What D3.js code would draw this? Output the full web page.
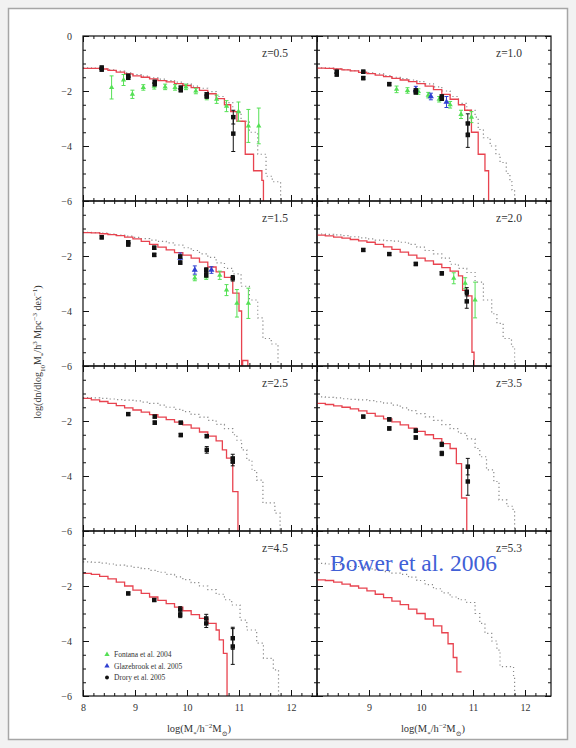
<!DOCTYPE html>
<html><head><meta charset="utf-8">
<script src="https://cdn.jsdelivr.net/npm/d3@7"></script>
<style>body{margin:0;background:#f2f2f2}</style>
</head><body><svg id="c" width="576" height="748"></svg>
<script>
// ---------------- data ----------------
const redshifts = ["z=0.5","z=1.0","z=1.5","z=2.0","z=2.5","z=3.5","z=4.5","z=5.3"];
const xDomain = [8, 12.5];
const yDomain = [-6, 0];
const xMajorTicks = [8, 9, 10, 11, 12];
const yMajorTicks = [0, -2, -4, -6];

// model (solid red) and comparison model (grey dotted), step histograms [logM, logPhi]
const red_z05 = [[8.0,-1.18],[8.16,-1.18],[8.32,-1.2],[8.48,-1.25],[8.64,-1.31],[8.8,-1.38],[8.96,-1.45],[9.12,-1.5],[9.28,-1.56],[9.44,-1.62],[9.6,-1.67],[9.76,-1.73],[9.92,-1.8],[10.08,-1.88],[10.24,-1.98],[10.4,-2.1],[10.56,-2.28],[10.72,-2.5],[10.84,-2.75],[10.96,-3.1],[11.12,-4.3],[11.28,-4.9],[11.44,-5.25],[11.47,-7],[11.6,-7]];
const gray_z05 = [[8.0,-1.16],[8.16,-1.17],[8.32,-1.19],[8.48,-1.23],[8.64,-1.28],[8.8,-1.34],[8.96,-1.4],[9.12,-1.46],[9.28,-1.52],[9.44,-1.57],[9.6,-1.62],[9.76,-1.68],[9.92,-1.74],[10.08,-1.82],[10.24,-1.9],[10.4,-2.02],[10.56,-2.2],[10.72,-2.42],[10.88,-2.75],[11.04,-3.1],[11.2,-3.5],[11.36,-4.3],[11.52,-5.1],[11.64,-5.3],[11.8,-7],[11.9,-7]];
const red_z10 = [[8.0,-1.17],[8.16,-1.18],[8.32,-1.2],[8.48,-1.23],[8.64,-1.27],[8.8,-1.32],[8.96,-1.37],[9.12,-1.42],[9.28,-1.48],[9.44,-1.54],[9.6,-1.6],[9.76,-1.66],[9.92,-1.73],[10.08,-1.82],[10.24,-1.95],[10.4,-2.12],[10.56,-2.3],[10.72,-2.5],[10.84,-2.7],[10.97,-3.5],[11.1,-4.3],[11.23,-4.9],[11.3,-7],[11.4,-7]];
const gray_z10 = [[8.0,-1.16],[8.16,-1.17],[8.32,-1.19],[8.48,-1.22],[8.64,-1.26],[8.8,-1.3],[8.96,-1.34],[9.12,-1.38],[9.28,-1.44],[9.44,-1.5],[9.6,-1.55],[9.76,-1.6],[9.92,-1.66],[10.08,-1.74],[10.24,-1.85],[10.4,-2.0],[10.56,-2.2],[10.72,-2.45],[10.88,-2.7],[11.04,-2.95],[11.1,-3.4],[11.2,-3.7],[11.33,-4.0],[11.44,-4.3],[11.52,-4.6],[11.64,-5.0],[11.71,-5.3],[11.75,-5.6],[11.8,-7],[11.9,-7]];
const red_z15 = [[8.0,-1.15],[8.16,-1.16],[8.32,-1.19],[8.48,-1.22],[8.64,-1.26],[8.8,-1.31],[8.96,-1.38],[9.12,-1.47],[9.28,-1.58],[9.44,-1.68],[9.6,-1.78],[9.76,-1.88],[9.92,-1.97],[10.08,-2.08],[10.24,-2.22],[10.4,-2.4],[10.56,-2.58],[10.72,-2.78],[10.88,-3.35],[11.0,-4.0],[11.05,-7],[11.07,-5.8],[11.17,-7],[11.3,-7]];
const gray_z15 = [[8.0,-1.14],[8.16,-1.15],[8.32,-1.17],[8.48,-1.2],[8.64,-1.24],[8.8,-1.28],[8.96,-1.32],[9.12,-1.37],[9.28,-1.42],[9.44,-1.47],[9.6,-1.52],[9.76,-1.6],[9.92,-1.7],[10.08,-1.8],[10.24,-1.92],[10.4,-2.05],[10.56,-2.25],[10.72,-2.45],[10.88,-2.65],[11.04,-3.1],[11.2,-3.6],[11.36,-4.25],[11.46,-5.0],[11.62,-5.2],[11.75,-7],[11.85,-7]];
const red_z20 = [[8.0,-1.24],[8.16,-1.27],[8.32,-1.31],[8.48,-1.35],[8.64,-1.4],[8.8,-1.45],[8.96,-1.5],[9.12,-1.58],[9.28,-1.67],[9.44,-1.76],[9.6,-1.86],[9.76,-1.97],[9.92,-2.08],[10.08,-2.18],[10.24,-2.3],[10.4,-2.42],[10.56,-2.55],[10.72,-2.72],[10.8,-3.25],[10.9,-3.45],[10.98,-5.5],[11.02,-7],[11.1,-7]];
const gray_z20 = [[8.0,-1.2],[8.16,-1.21],[8.32,-1.23],[8.48,-1.26],[8.64,-1.3],[8.8,-1.34],[8.96,-1.38],[9.12,-1.42],[9.28,-1.44],[9.44,-1.46],[9.6,-1.5],[9.76,-1.58],[9.92,-1.68],[10.08,-1.8],[10.24,-1.92],[10.4,-2.08],[10.56,-2.3],[10.72,-2.45],[10.88,-2.6],[11.04,-2.95],[11.2,-3.6],[11.36,-4.1],[11.46,-4.45],[11.58,-5.0],[11.74,-5.3],[11.8,-7],[11.9,-7]];
const red_z25 = [[8.0,-1.18],[8.16,-1.23],[8.32,-1.29],[8.48,-1.36],[8.64,-1.44],[8.8,-1.52],[8.96,-1.6],[9.12,-1.68],[9.28,-1.77],[9.44,-1.86],[9.6,-1.95],[9.76,-2.04],[9.92,-2.14],[10.08,-2.26],[10.24,-2.4],[10.4,-2.55],[10.56,-2.72],[10.68,-3.05],[10.76,-3.35],[10.88,-4.57],[10.98,-7],[11.1,-7]];
const gray_z25 = [[8.0,-1.15],[8.16,-1.16],[8.32,-1.18],[8.48,-1.2],[8.64,-1.22],[8.8,-1.24],[8.96,-1.27],[9.12,-1.31],[9.28,-1.36],[9.44,-1.42],[9.6,-1.5],[9.76,-1.58],[9.92,-1.66],[10.08,-1.76],[10.24,-1.86],[10.4,-1.98],[10.56,-2.12],[10.72,-2.28],[10.88,-2.5],[10.96,-2.7],[11.05,-3.05],[11.15,-3.42],[11.25,-3.8],[11.34,-4.15],[11.46,-4.98],[11.69,-5.35],[11.79,-7],[11.9,-7]];
const red_z35 = [[8.0,-1.36],[8.16,-1.4],[8.32,-1.45],[8.48,-1.5],[8.64,-1.56],[8.8,-1.63],[8.96,-1.72],[9.12,-1.82],[9.28,-1.92],[9.44,-2.03],[9.6,-2.14],[9.76,-2.26],[9.92,-2.38],[10.08,-2.5],[10.24,-2.64],[10.4,-2.82],[10.56,-3.0],[10.68,-3.55],[10.78,-4.8],[10.88,-7],[11.0,-7]];
const gray_z35 = [[8.0,-1.12],[8.16,-1.14],[8.32,-1.16],[8.48,-1.19],[8.64,-1.21],[8.8,-1.23],[8.96,-1.26],[9.12,-1.3],[9.28,-1.35],[9.44,-1.42],[9.6,-1.52],[9.76,-1.62],[9.92,-1.73],[10.08,-1.85],[10.24,-1.98],[10.4,-2.13],[10.56,-2.28],[10.72,-2.45],[10.88,-2.65],[11.04,-3.0],[11.13,-3.3],[11.26,-3.78],[11.4,-4.2],[11.5,-4.87],[11.65,-5.1],[11.77,-5.3],[11.8,-7],[11.9,-7]];
const red_z45 = [[8.0,-1.54],[8.16,-1.58],[8.32,-1.65],[8.48,-1.74],[8.64,-1.86],[8.8,-2.0],[8.96,-2.15],[9.12,-2.27],[9.28,-2.4],[9.44,-2.52],[9.6,-2.64],[9.76,-2.77],[9.92,-2.9],[10.08,-3.04],[10.24,-3.18],[10.4,-3.36],[10.56,-3.6],[10.62,-3.96],[10.7,-4.45],[10.77,-7],[10.9,-7]];
const gray_z45 = [[8.0,-1.12],[8.16,-1.14],[8.32,-1.17],[8.48,-1.2],[8.64,-1.24],[8.8,-1.28],[8.96,-1.32],[9.12,-1.37],[9.28,-1.43],[9.44,-1.5],[9.6,-1.58],[9.76,-1.67],[9.92,-1.77],[10.08,-1.88],[10.24,-2.0],[10.4,-2.13],[10.56,-2.3],[10.72,-2.5],[10.86,-2.69],[11.02,-3.24],[11.15,-3.6],[11.34,-4.08],[11.47,-4.63],[11.66,-5.05],[11.76,-7],[11.9,-7]];
const red_z53 = [[8.0,-1.78],[8.16,-1.8],[8.32,-1.86],[8.48,-1.93],[8.64,-2.0],[8.8,-2.08],[8.96,-2.18],[9.12,-2.3],[9.28,-2.42],[9.44,-2.55],[9.6,-2.68],[9.76,-2.84],[9.92,-3.0],[10.08,-3.2],[10.24,-3.45],[10.4,-3.7],[10.52,-4.1],[10.62,-4.6],[10.69,-5.12],[10.78,-5.12]];
const gray_z53 = [[8.0,-1.18],[8.16,-1.2],[8.32,-1.22],[8.48,-1.25],[8.64,-1.29],[8.8,-1.33],[8.96,-1.38],[9.12,-1.43],[9.28,-1.48],[9.44,-1.53],[9.6,-1.58],[9.76,-1.68],[9.92,-1.8],[10.08,-1.95],[10.24,-2.1],[10.4,-2.25],[10.56,-2.4],[10.72,-2.5],[10.88,-2.6],[11.04,-3.0],[11.13,-3.36],[11.23,-3.72],[11.36,-4.0],[11.46,-4.33],[11.52,-4.93],[11.78,-5.3],[11.8,-7],[11.9,-7]];

// observations [logM, logPhi, error]
const drory_z05 = [[8.36,-1.15,0.06],[8.36,-1.22,0.06],[8.87,-1.45,0.06],[8.87,-1.52,0.06],[9.38,-1.67,0.06],[9.38,-1.75,0.06],[9.88,-1.88,0.06],[9.88,-1.97,0.06],[10.38,-2.12,0.06],[10.38,-2.2,0.06],[10.89,-2.95,0.25],[10.89,-3.55,0.65]];
const fontana_z05 = [[8.55,-1.87,0.42],[8.78,-1.6,0.2],[8.95,-2.12,0.15],[9.16,-1.87,0.1],[9.37,-1.83,0.1],[9.58,-1.85,0.1],[9.77,-1.87,0.1],[9.98,-1.85,0.1],[10.17,-2.0,0.1],[10.38,-2.2,0.12],[10.57,-2.3,0.15],[10.76,-2.55,0.2],[10.99,-2.75,0.35],[11.18,-3.27,0.6],[11.38,-3.27,0.65]];
const drory_z10 = [[8.38,-1.3,0.06],[8.38,-1.4,0.06],[8.89,-1.3,0.06],[8.89,-1.53,0.06],[9.39,-1.75,0.06],[9.9,-1.98,0.06],[9.9,-2.05,0.06],[10.4,-2.2,0.06],[10.4,-2.28,0.06],[10.9,-3.18,0.35],[10.9,-3.6,0.45]];
const glazebrook_z10 = [[9.9,-1.95,0.12],[10.19,-2.2,0.12],[10.49,-2.4,0.2]];
const fontana_z10 = [[9.53,-1.94,0.12],[9.74,-1.98,0.1],[9.95,-2.02,0.1],[10.14,-2.15,0.1],[10.35,-2.3,0.1],[10.56,-2.5,0.12],[10.77,-2.85,0.15],[10.97,-2.95,0.2]];
const drory_z15 = [[8.36,-1.32,0.06],[8.87,-1.5,0.06],[8.87,-1.58,0.06],[9.37,-1.7,0.06],[9.37,-1.96,0.06],[9.87,-2.02,0.06],[9.87,-2.24,0.06],[10.37,-2.51,0.08],[10.37,-2.69,0.08],[10.88,-2.81,0.1]];
const glazebrook_z15 = [[9.87,-2.07,0.18],[10.15,-2.51,0.15],[10.47,-2.51,0.12]];
const fontana_z15 = [[10.15,-2.8,0.1],[10.37,-2.75,0.1],[10.63,-2.7,0.15],[10.76,-3.24,0.2],[10.96,-3.72,0.5],[11.18,-3.72,0.55]];
const drory_z20 = [[8.89,-1.78,0.05],[9.39,-1.93,0.05],[9.9,-2.29,0.06],[10.4,-2.63,0.06],[10.88,-3.3,0.15],[10.88,-3.65,0.25]];
const fontana_z20 = [[10.63,-2.81,0.2],[10.85,-2.99,0.2],[11.04,-3.6,0.65]];
const drory_z25 = [[8.87,-1.75,0.05],[9.38,-1.84,0.05],[9.38,-2.06,0.06],[9.88,-2.06,0.05],[9.88,-2.51,0.06],[10.38,-2.55,0.06],[10.38,-3.05,0.12],[10.88,-3.36,0.15],[10.88,-3.48,0.15]];
const drory_z35 = [[8.89,-1.84,0.05],[9.39,-1.94,0.06],[9.39,-2.27,0.06],[9.9,-2.35,0.06],[9.9,-2.6,0.06],[10.4,-2.85,0.08],[10.4,-3.18,0.08],[10.9,-3.66,0.3],[10.9,-4.2,0.5]];
const drory_z45 = [[8.87,-2.27,0.05],[9.37,-2.51,0.05],[9.87,-2.85,0.1],[9.87,-3.05,0.1],[10.37,-3.18,0.15],[10.37,-3.36,0.15],[10.88,-3.9,0.4],[10.88,-4.2,0.65]];

const legendLabels = ["Fontana et al. 2004","Glazebrook et al. 2005","Drory et al. 2005"];

// panel table built from the arrays above
const panels = [
  {z: redshifts[0], red: red_z05, gray: gray_z05, drory: drory_z05, fontana: fontana_z05, glazebrook: []},
  {z: redshifts[1], red: red_z10, gray: gray_z10, drory: drory_z10, fontana: fontana_z10, glazebrook: glazebrook_z10},
  {z: redshifts[2], red: red_z15, gray: gray_z15, drory: drory_z15, fontana: fontana_z15, glazebrook: glazebrook_z15},
  {z: redshifts[3], red: red_z20, gray: gray_z20, drory: drory_z20, fontana: fontana_z20, glazebrook: []},
  {z: redshifts[4], red: red_z25, gray: gray_z25, drory: drory_z25, fontana: [], glazebrook: []},
  {z: redshifts[5], red: red_z35, gray: gray_z35, drory: drory_z35, fontana: [], glazebrook: []},
  {z: redshifts[6], red: red_z45, gray: gray_z45, drory: drory_z45, fontana: [], glazebrook: []},
  {z: redshifts[7], red: red_z53, gray: gray_z53, drory: [], fontana: [], glazebrook: []}
];

// ---------------- drawing ----------------
const svg = d3.select("#c");
const FONT = "'Liberation Serif','DejaVu Serif',serif";
const colRed = "#e8434f", colGray = "#8a8a8a", colGreen = "#55e055", colBlue = "#2f3fd0";

svg.append("rect").attr("x",8.5).attr("y",8.5).attr("width",559).attr("height",731)
  .attr("fill","#fff").attr("stroke","#a6a6a6").attr("stroke-width",1.5);

const W = 234, H = 165, X0 = 83, Y0 = 36;
const defs = svg.append("defs");

panels.forEach((p, i) => {
  const col = i % 2, row = Math.floor(i / 2);
  const x0 = X0 + col * W, y0 = Y0 + row * H;
  const x = d3.scaleLinear().domain(xDomain).range([x0, x0 + W]);
  const y = d3.scaleLinear().domain(yDomain).range([y0 + H, y0]);
  const g = svg.append("g");

  defs.append("clipPath").attr("id", "clip" + i).append("rect")
    .attr("x", x0).attr("y", y0).attr("width", W).attr("height", H);
  const plot = g.append("g").attr("clip-path", `url(#clip${i})`);

  const line = d3.line().x(d => x(d[0])).y(d => y(d[1])).curve(d3.curveStepAfter);
  plot.append("path").attr("d", line(p.gray)).attr("fill","none")
    .attr("stroke", colGray).attr("stroke-width", 1.2).attr("stroke-dasharray","1.2,2.8");
  plot.append("path").attr("d", line(p.red)).attr("fill","none")
    .attr("stroke", colRed).attr("stroke-width", 1.3);

  function errBars(data, color) {
    const eg = plot.append("g").attr("stroke", color).attr("stroke-width", 1);
    data.forEach(d => {
      eg.append("line").attr("x1", x(d[0])).attr("x2", x(d[0]))
        .attr("y1", y(d[1] - d[2])).attr("y2", y(d[1] + d[2]));
      [d[1] - d[2], d[1] + d[2]].forEach(v => eg.append("line")
        .attr("x1", x(d[0]) - 2).attr("x2", x(d[0]) + 2).attr("y1", y(v)).attr("y2", y(v)));
    });
  }
  function markers(data, color, type, size) {
    plot.append("g").selectAll("path").data(data).join("path")
      .attr("transform", d => `translate(${x(d[0])},${y(d[1])})`)
      .attr("d", d3.symbol(type).size(size)).attr("fill", color);
  }
  errBars(p.fontana, colGreen);
  markers(p.fontana, colGreen, d3.symbolTriangle, 12);
  errBars(p.glazebrook, colBlue);
  markers(p.glazebrook, colBlue, d3.symbolTriangle, 16);
  errBars(p.drory, "#111");
  markers(p.drory, "#111", d3.symbolSquare, 20);

  // ticks (inward on all sides)
  const xMinor = d3.range(80, 126, 2).map(v => v / 10);
  const yMinor = d3.range(-12, 1, 1).map(v => v / 2);
  const tickG = g.append("g").attr("font-family", FONT).attr("font-size", 11);
  function addAxis(axisFn, scale, vals, size, fmt, tx, ty, pad) {
    const a = axisFn(scale).tickValues(vals).tickSize(size).tickPadding(pad || 3)
      .tickFormat(fmt || "");
    const ag = tickG.append("g").attr("transform", `translate(${tx},${ty})`).call(a);
    ag.select(".domain").remove();
    ag.selectAll("line").attr("stroke", "#111");
    ag.selectAll("text").attr("fill", "#333").attr("font-family", FONT);
    return ag;
  }
  addAxis(d3.axisBottom, x, xMinor, -3, null, 0, y0 + H);
  addAxis(d3.axisTop, x, xMinor, -3, null, 0, y0);
  addAxis(d3.axisLeft, y, yMinor, -3, null, x0, 0);
  addAxis(d3.axisRight, y, yMinor, -3, null, x0 + W, 0);
  const bottomLabels = row === 3;
  const xLab = col === 0 ? xMajorTicks : xMajorTicks.filter(v => v !== xDomain[0]);
  addAxis(d3.axisBottom, x, bottomLabels ? xLab : xMajorTicks, -6,
          bottomLabels ? d3.format("d") : null, 0, y0 + H, 8);
  addAxis(d3.axisTop, x, xMajorTicks, -6, null, 0, y0);
  const yLab = row === 0 ? yMajorTicks : yMajorTicks.filter(v => v !== yDomain[1]);
  addAxis(d3.axisLeft, y, col === 0 ? yLab : yMajorTicks, -6,
          col === 0 ? d3.format("d") : null, x0, 0, 11);
  addAxis(d3.axisRight, y, yMajorTicks, -6, null, x0 + W, 0);

  g.append("rect").attr("x", x0).attr("y", y0).attr("width", W).attr("height", H)
    .attr("fill", "none").attr("stroke", "#111").attr("stroke-width", 1.2);

  g.append("text").attr("x", x0 + W - 29).attr("y", y0 + 21)
    .attr("text-anchor", "end").attr("font-family", FONT).attr("font-size", 11.5)
    .attr("fill", "#333").text(p.z);

  // legend in the z=4.5 panel
  if (i === 6) {
    const lg = g.append("g").attr("font-family", FONT).attr("font-size", 7.5).attr("fill", "#333");
    const cols = [colGreen, colBlue, "#111"];
    const syms = [d3.symbolTriangle, d3.symbolTriangle, d3.symbolCircle];
    legendLabels.forEach((t, k) => {
      const ly = 657 + k * 11.5;
      lg.append("path").attr("transform", `translate(107,${ly - 2.5})`)
        .attr("d", d3.symbol(syms[k]).size(12)).attr("fill", cols[k]);
      lg.append("text").attr("x", 114).attr("y", ly).text(t);
    });
  }
  if (bottomLabels) {
    const t = g.append("text").attr("x", x0 + W / 2 - 1).attr("y", 732)
      .attr("text-anchor", "middle").attr("font-family", FONT).attr("font-size", 10.5).attr("fill", "#333");
    t.append("tspan").text("log(M");
    t.append("tspan").attr("baseline-shift", "sub").attr("font-size", 7).text("*");
    t.append("tspan").text("/h");
    t.append("tspan").attr("baseline-shift", "super").attr("font-size", 7).text("−2");
    t.append("tspan").text("M");
    t.append("tspan").attr("baseline-shift", "sub").attr("font-size", 7).text("⊙");
    t.append("tspan").text(")");
  }
});

// y-axis title
const yt = svg.append("text").attr("transform", "translate(41,352) rotate(-90)")
  .attr("text-anchor", "middle").attr("font-family", FONT).attr("font-size", 10).attr("fill", "#333");
yt.append("tspan").text("log(dn/dlog");
yt.append("tspan").attr("baseline-shift", "sub").attr("font-size", 7).text("10");
yt.append("tspan").text("M");
yt.append("tspan").attr("baseline-shift", "sub").attr("font-size", 7).text("*");
yt.append("tspan").text("/h");
yt.append("tspan").attr("baseline-shift", "super").attr("font-size", 7).text("3");
yt.append("tspan").text(" Mpc");
yt.append("tspan").attr("baseline-shift", "super").attr("font-size", 7).text("−3");
yt.append("tspan").text(" dex");
yt.append("tspan").attr("baseline-shift", "super").attr("font-size", 7).text("−1");
yt.append("tspan").text(")");

// annotation
svg.append("text").attr("x", 330).attr("y", 571).attr("font-family", FONT)
  .attr("font-size", 23.5).attr("fill", "#4160d6").text("Bower et al. 2006");
</script>
</body></html>
